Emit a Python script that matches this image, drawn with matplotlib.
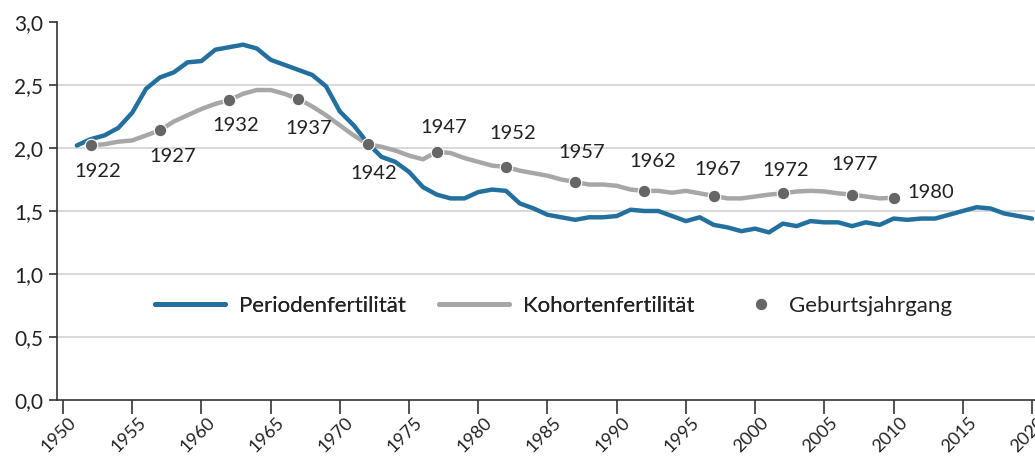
import matplotlib
matplotlib.use("Agg")
import matplotlib.pyplot as plt
from matplotlib.lines import Line2D
from matplotlib.transforms import ScaledTranslation

plt.rcParams['font.family'] = ['Lato', 'DejaVu Sans']

# Periodenfertilität 1951-2020
period_years = list(range(1951, 2021))
period_tfr = [2.02, 2.07, 2.10, 2.16, 2.28, 2.47, 2.56, 2.60, 2.68, 2.69,
              2.78, 2.80, 2.82, 2.79, 2.70, 2.66, 2.62, 2.58, 2.49, 2.29,
              2.18, 2.04, 1.93, 1.89, 1.81, 1.69, 1.63, 1.60, 1.60, 1.65,
              1.67, 1.66, 1.56, 1.52, 1.47, 1.45, 1.43, 1.45, 1.45, 1.46,
              1.51, 1.50, 1.50, 1.46, 1.42, 1.45, 1.39, 1.37, 1.34, 1.36,
              1.33, 1.40, 1.38, 1.42, 1.41, 1.41, 1.38, 1.41, 1.39, 1.44,
              1.43, 1.44, 1.44, 1.47, 1.50, 1.53, 1.52, 1.48, 1.46, 1.44]

# Kohortenfertilität, Geburtsjahrgänge 1922-1980 (plotted at age 30)
cohorts = list(range(1922, 1981))
cohort_tfr = [2.02, 2.03, 2.05, 2.06, 2.10, 2.14, 2.21, 2.26, 2.31, 2.35,
              2.38, 2.43, 2.46, 2.46, 2.43, 2.39, 2.33, 2.26, 2.18, 2.10,
              2.03, 2.01, 1.98, 1.94, 1.91, 1.97, 1.96, 1.92, 1.89, 1.86,
              1.85, 1.82, 1.80, 1.78, 1.75, 1.73, 1.71, 1.71, 1.70, 1.67,
              1.66, 1.66, 1.645, 1.66, 1.64, 1.62, 1.60, 1.60, 1.615, 1.63,
              1.64, 1.655, 1.66, 1.655, 1.64, 1.63, 1.615, 1.60, 1.605]
cohort_shift = 30
marked_cohorts = [1922, 1927, 1932, 1937, 1942, 1947, 1952, 1957, 1962,
                  1967, 1972, 1977, 1980]
# label offsets in pixels (dx, dy) relative to marker
label_offsets = [(7, -26), (13, -26), (7, -25), (10, -30), (6, -29),
                 (7, 24), (7, 33), (6, 30), (8, 29), (4, 26), (3, 23),
                 (3, 30), (37, 5)]

blue = "#23709f"
grey = "#a7a7a9"
dot = "#666666"
txt = "#222222"

fig = plt.figure(figsize=(10.35, 4.59), dpi=100)
ax = fig.add_axes([57 / 1035, 59 / 459, 1 - 57 / 1035, 378 / 459])

cx = [c + cohort_shift for c in cohorts]
ax.plot(cx, cohort_tfr, color=grey, lw=3.2, solid_capstyle="round", zorder=3)
ax.plot(period_years, period_tfr, color=blue, lw=3.2, solid_capstyle="round", zorder=4)

for c, (dx, dy) in zip(marked_cohorts, label_offsets):
    v = cohort_tfr[cohorts.index(c)]
    ax.plot(c + cohort_shift, v, "o", color=dot, ms=9, mec="white", mew=0.8, zorder=5)
    ax.annotate(str(c), (c + cohort_shift, v), xytext=(dx, dy),
                textcoords="offset pixels", ha="center", va="center",
                fontsize=14.5, color=txt, zorder=6)

ax.set_xlim(1950 - 6 / 13.843, 2020 + 3 / 13.843)
ax.set_ylim(0, 3)
ax.set_yticks([0, 0.5, 1, 1.5, 2, 2.5, 3])
ax.set_yticklabels(["0,0", "0,5", "1,0", "1,5", "2,0", "2,5", "3,0"])
ax.set_xticks(range(1950, 2021, 5))
ax.set_xticklabels([str(y) for y in range(1950, 2021, 5)], rotation=45,
                   ha="right", va="center", rotation_mode="anchor")
ax.tick_params(axis="x", length=10, width=1.2, color="#333333", pad=6,
               labelsize=13, labelcolor=txt)
ax.tick_params(axis="y", length=6, width=1.2, color="#333333", pad=4,
               labelsize=15, labelcolor=txt)
shift = ScaledTranslation(11 / 100, 2 / 100, fig.dpi_scale_trans)
for lab in ax.get_xticklabels():
    lab.set_transform(lab.get_transform() + shift)

for g in [0.5, 1, 1.5, 2, 2.5]:
    ax.axhline(g, color="#d3d3d3", lw=1.2, zorder=1)

for s in ["top", "right"]:
    ax.spines[s].set_visible(False)
for s in ["left", "bottom"]:
    ax.spines[s].set_color("#333333")
    ax.spines[s].set_linewidth(1.2)

h1 = Line2D([], [], color=blue, lw=3.5, solid_capstyle="round")
h2 = Line2D([], [], color=grey, lw=3.5, solid_capstyle="round")
leg1 = fig.legend([h1, h2], ["Periodenfertilität", "Kohortenfertilität"],
                  loc="center left", bbox_to_anchor=(155 / 1035, 1 - 306 / 459),
                  ncol=2, frameon=False, fontsize=16, handlelength=3.15,
                  handletextpad=0.63, columnspacing=1.5, borderpad=0,
                  borderaxespad=0, labelcolor=txt)
h3 = Line2D([], [], ls="none", marker="o", color=dot, ms=9, mec="white", mew=0.8)
leg2 = fig.legend([h3], ["Geburtsjahrgang"], loc="center left",
                  bbox_to_anchor=(750 / 1035, 1 - 306 / 459), frameon=False,
                  fontsize=16, handlelength=0.95, handletextpad=0.8,
                  borderpad=0, borderaxespad=0, labelcolor=txt)
fig.add_artist(leg1)

fig.savefig("out.png", dpi=100)
